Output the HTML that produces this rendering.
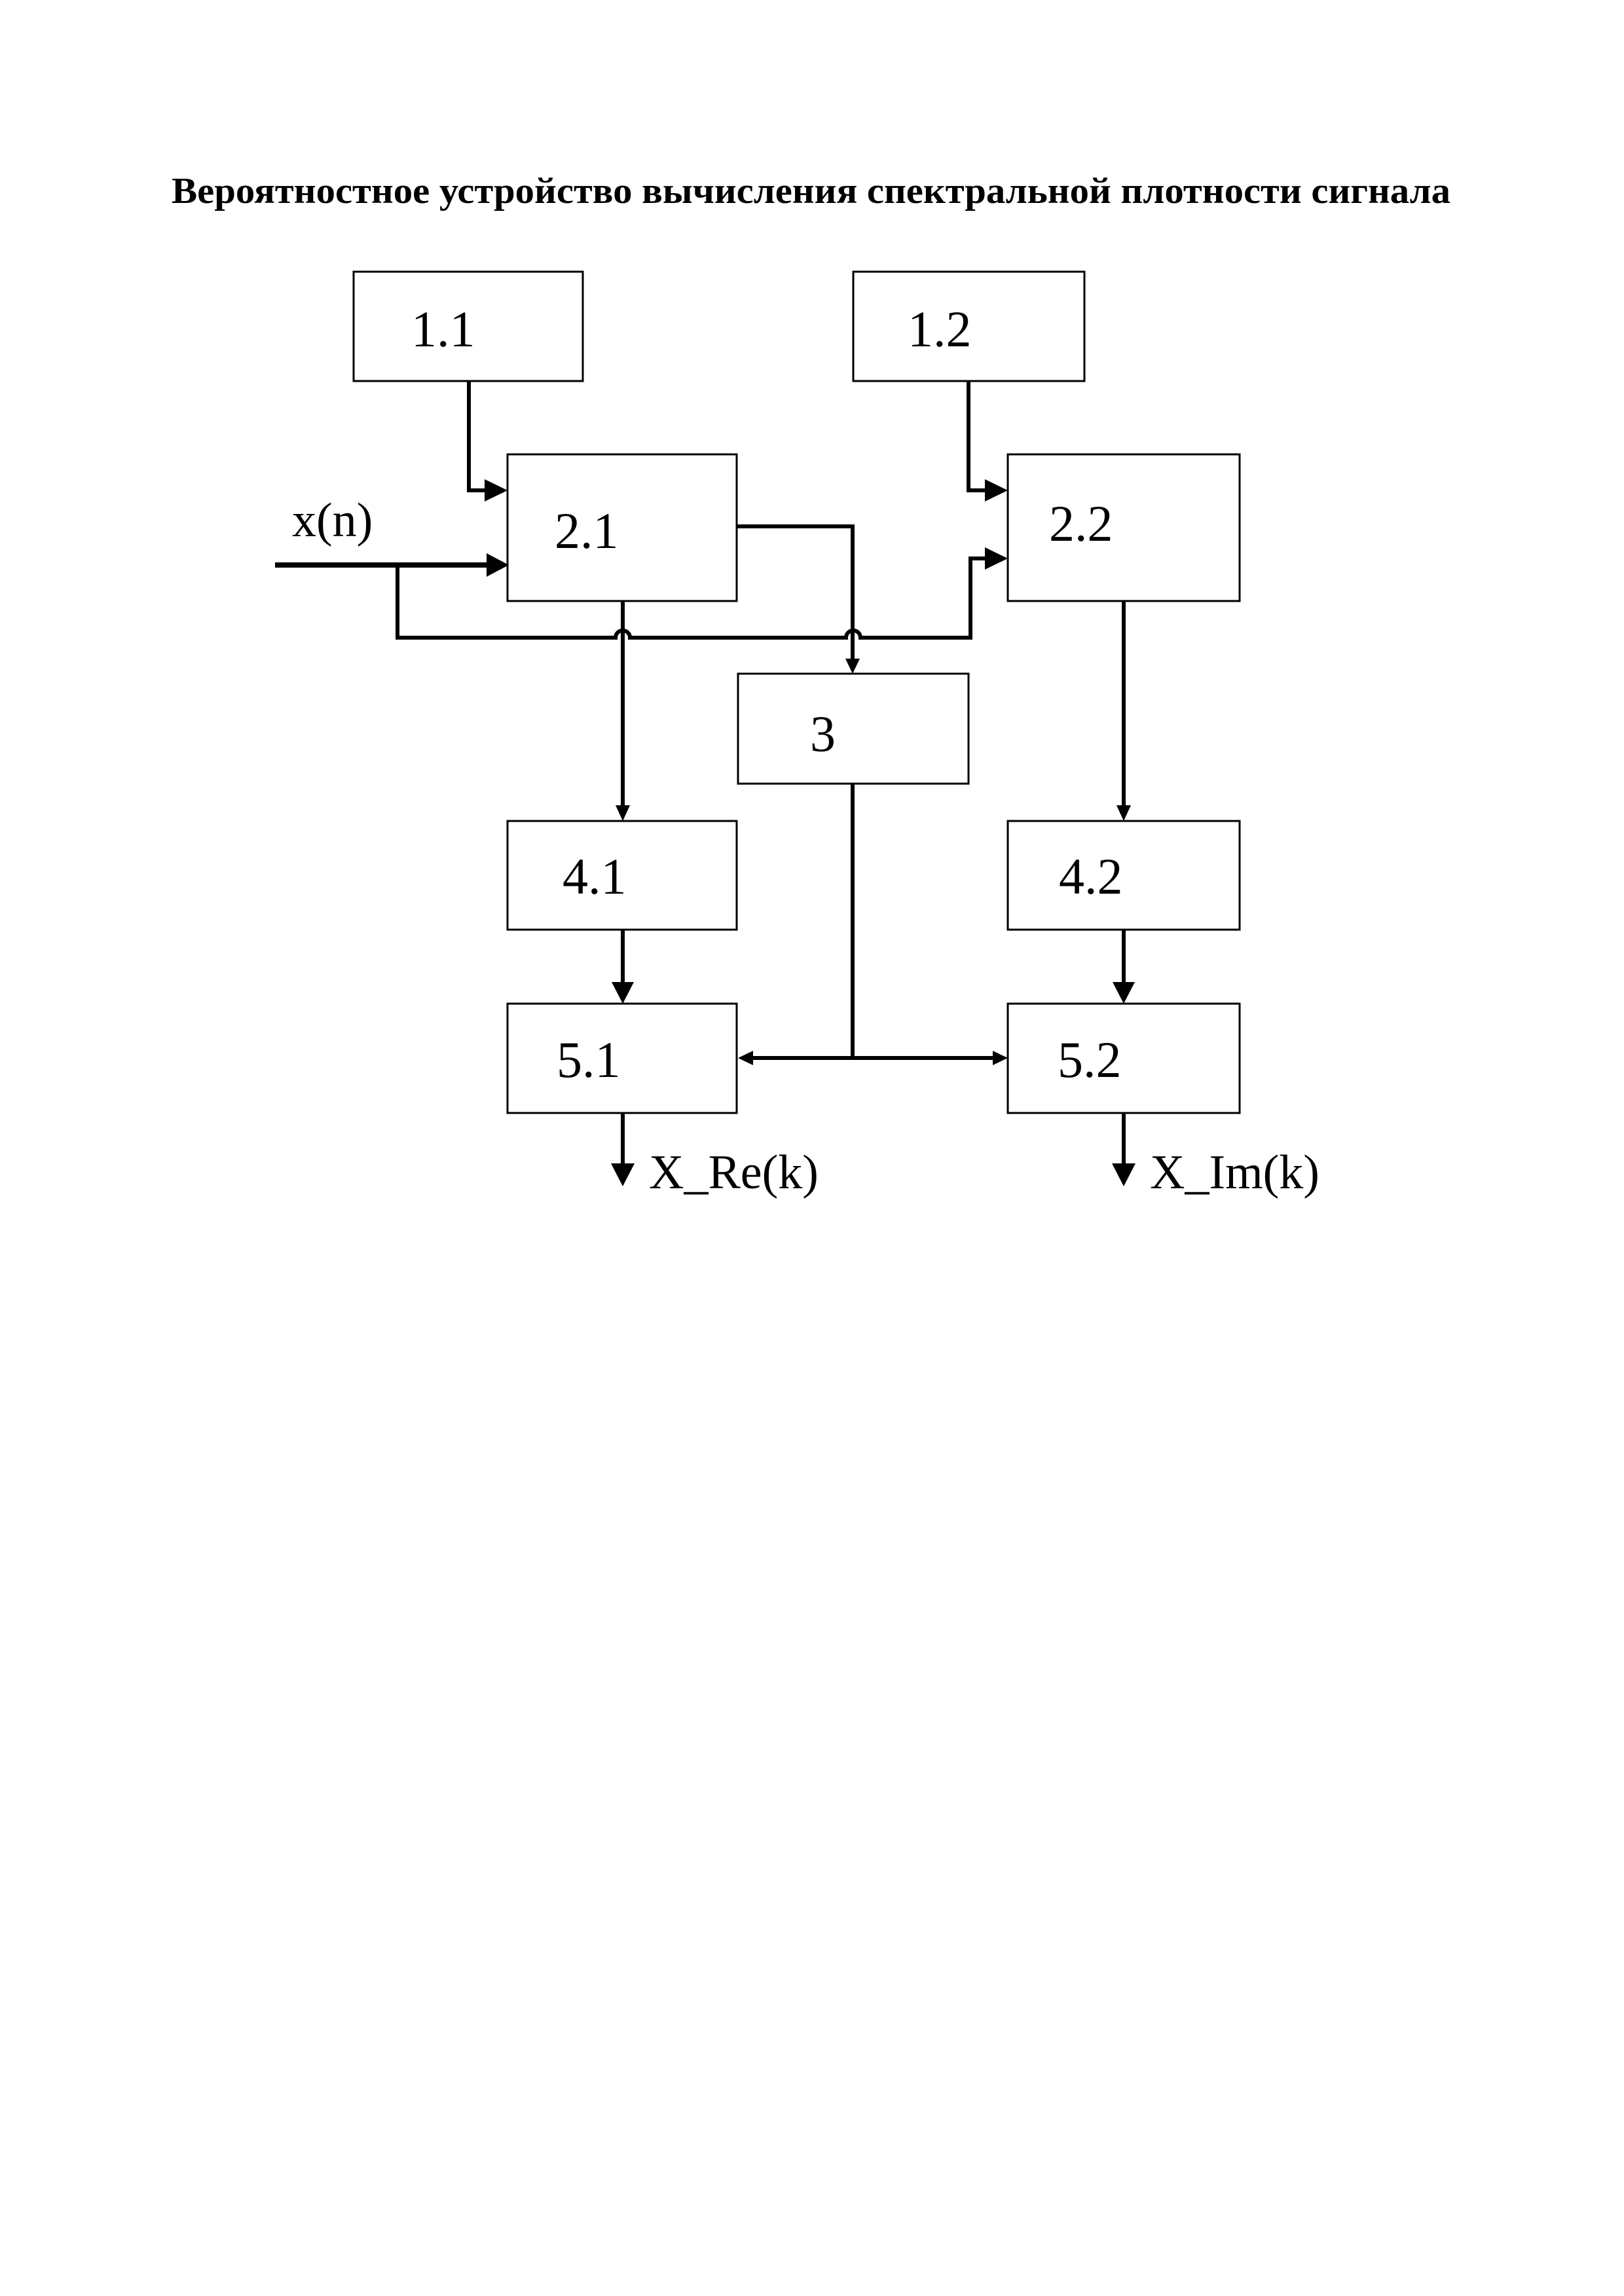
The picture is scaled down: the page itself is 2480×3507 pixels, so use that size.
<!DOCTYPE html>
<html><head><meta charset="utf-8"><style>
html,body{margin:0;padding:0;background:#fff;}
svg{display:block;}
text{font-family:"Liberation Serif",serif;fill:#000;}
</style></head><body>
<svg width="2480" height="3507" viewBox="0 0 2480 3507" xmlns="http://www.w3.org/2000/svg">
<rect width="2480" height="3507" fill="#fff"/>
<text x="262" y="310" font-size="56" font-weight="bold" textLength="1953" lengthAdjust="spacingAndGlyphs">Вероятностное устройство вычисления спектральной плотности сигнала</text>
<g fill="none" stroke="#000" stroke-width="3">
<rect x="540" y="415" width="350" height="167"/>
<rect x="1303" y="415" width="353" height="167"/>
<rect x="775" y="694" width="350" height="224"/>
<rect x="1539" y="694" width="354" height="224"/>
<rect x="1127" y="1029" width="352" height="168"/>
<rect x="775" y="1254" width="350" height="166"/>
<rect x="1539" y="1254" width="354" height="166"/>
<rect x="775" y="1533" width="350" height="167"/>
<rect x="1539" y="1533" width="354" height="167"/>
</g>
<g fill="none" stroke="#000" stroke-width="6" stroke-linejoin="miter">
<polyline points="716,582 716,749 745,749"/>
<polyline points="1479,582 1479,749 1508,749"/>
<line x1="420" y1="863" x2="748" y2="863" stroke-width="8"/>
<path d="M607,863 L607,974 L940,974 A11,11 0 0 1 962,974 L1292,974 A11,11 0 0 1 1314,974 L1482,974 L1482,853 L1508,853"/>
<polyline points="1125,804 1302,804 1302,1008"/>
<line x1="951" y1="918" x2="951" y2="1232"/>
<line x1="1716" y1="918" x2="1716" y2="1232"/>
<line x1="951" y1="1420" x2="951" y2="1505"/>
<line x1="1716" y1="1420" x2="1716" y2="1505"/>
<line x1="1302" y1="1197" x2="1302" y2="1616"/>
<line x1="1148" y1="1616" x2="1518" y2="1616"/>
<line x1="951" y1="1700" x2="951" y2="1780"/>
<line x1="1716" y1="1700" x2="1716" y2="1780"/>
</g>
<g fill="#000">
<polygon points="740,732 775,749 740,766"/>
<polygon points="1504,732 1539,749 1504,766"/>
<polygon points="743,845 777,863 743,881"/>
<polygon points="1504,836 1539,853 1504,870"/>
<polygon points="1291,1006 1313,1006 1302,1029"/>
<polygon points="940,1230 962,1230 951,1254"/>
<polygon points="1705,1230 1727,1230 1716,1254"/>
<polygon points="934,1500 968,1500 951,1533"/>
<polygon points="1699,1500 1733,1500 1716,1533"/>
<polygon points="1150,1605 1150,1627 1127,1616"/>
<polygon points="1516,1605 1516,1627 1539,1616"/>
<polygon points="933,1777 969,1777 951,1812"/>
<polygon points="1698,1777 1734,1777 1716,1812"/>
</g>
<g font-size="78">
<text x="628" y="529">1.1</text>
<text x="1386" y="529">1.2</text>
<text x="847" y="837">2.1</text>
<text x="1602" y="826">2.2</text>
<text x="1237" y="1147">3</text>
<text x="859" y="1365">4.1</text>
<text x="1617" y="1365">4.2</text>
<text x="850" y="1645">5.1</text>
<text x="1615" y="1645">5.2</text>
</g>
<g font-size="74">
<text x="446" y="819">x(n)</text>
<text x="991" y="1815">X_Re(k)</text>
<text x="1756" y="1815">X_Im(k)</text>
</g>
</svg>
</body></html>
